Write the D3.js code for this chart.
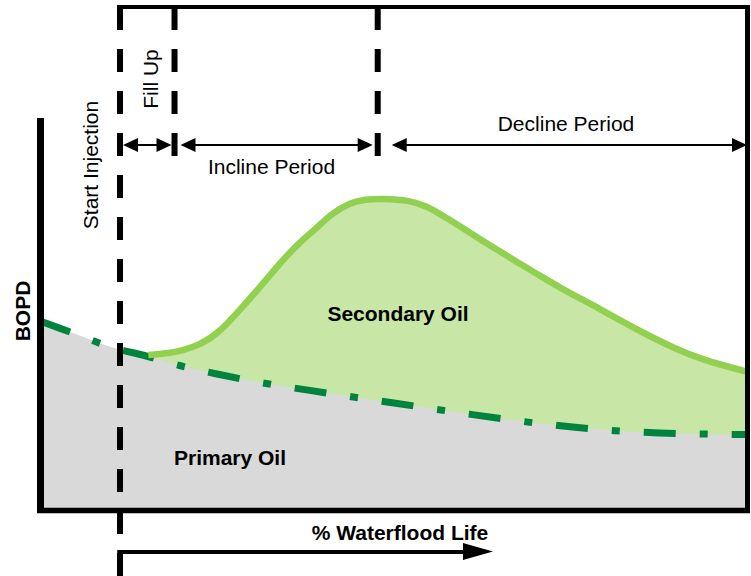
<!DOCTYPE html>
<html>
<head>
<meta charset="utf-8">
<script src="https://cdn.jsdelivr.net/npm/d3@7"></script>
<style>
  html, body { margin: 0; padding: 0; background: #ffffff; }
  svg { display: block; }
  text { font-family: "Liberation Sans", Arial, sans-serif; fill: #000; }
</style>
</head>
<body>
<svg id="chart" width="751" height="576"></svg>
<script>
// ---- data (x: % waterflood life, y: relative BOPD) ----
const primaryX = [0, 5, 10, 15, 20, 25, 30, 40, 50, 60, 70, 80, 90, 100];
const primaryY = [37.4, 34.8, 32.2, 30.4, 28.4, 26.8, 25.4, 23.1, 21.0, 18.9, 17.0, 15.6, 14.9, 14.7];

const secondaryX = [15.3, 18.4, 19.8, 22.6, 25.4, 28.2, 31.1, 33.9, 36.7, 39.1, 41.0, 43.8, 45.9, 48.4, 52.3, 54.7, 56.5, 59.3, 62.1, 65.0, 67.8, 70.6, 73.4, 76.3, 79.1, 82.6, 86.2, 89.7, 93.2, 96.8, 100];
const secondaryY = [30.6, 31.0, 31.4, 32.6, 35.2, 39.6, 44.2, 49.0, 53.2, 56.0, 58.7, 61.1, 61.7, 61.9, 61.5, 60.3, 58.8, 56.4, 53.8, 51.3, 48.8, 46.5, 44.1, 41.9, 39.8, 37.0, 34.3, 31.9, 29.9, 28.4, 27.2];

const eventNames = ["Start Injection", "Fill Up", "Incline End"];
const eventX = [11.3, 19.0, 47.7];
const periodLabels = ["Incline Period", "Decline Period"];
const areaLabels = ["Secondary Oil", "Primary Oil"];
const axisLabels = ["BOPD", "% Waterflood Life"];

// ---- layout ----
const svg = d3.select("#chart");
const x = d3.scaleLinear().domain([0, 100]).range([40, 748]);
const y = d3.scaleLinear().domain([0, 100]).range([508, 8]);

const primary = primaryX.map((v, i) => ({ x: v, y: primaryY[i] }));
const secondary = secondaryX.map((v, i) => ({ x: v, y: secondaryY[i] }));

const pCurve = d3.curveMonotoneX;
const sCurve = d3.curveBasis;

// secondary fill (area under secondary curve), covered below primary by gray
svg.append("path")
  .datum(secondary)
  .attr("fill", "#c8e6a6")
  .attr("d", d3.area().curve(sCurve).x(d => x(d.x)).y0(y(0)).y1(d => y(d.y)));

// primary fill
svg.append("path")
  .datum(primary)
  .attr("fill", "#d9d9d9")
  .attr("d", d3.area().curve(pCurve).x(d => x(d.x)).y0(y(0)).y1(d => y(d.y)));

// primary dash-dot line
svg.append("path")
  .datum(primary)
  .attr("fill", "none")
  .attr("stroke", "#00843d")
  .attr("stroke-width", 7)
  .attr("stroke-dasharray", "32 24 8 24")
  .attr("d", d3.line().curve(pCurve).x(d => x(d.x)).y(d => y(d.y)));

// secondary line
svg.append("path")
  .datum(secondary)
  .attr("fill", "none")
  .attr("stroke", "#92d050")
  .attr("stroke-width", 6.5)
  .attr("d", d3.line().curve(sCurve).x(d => x(d.x)).y(d => y(d.y)));

// frame / axes
const frame = svg.append("g").attr("stroke", "#000").attr("fill", "none");
frame.append("line").attr("x1", 40.5).attr("x2", 40.5).attr("y1", 118).attr("y2", 513).attr("stroke-width", 7);
frame.append("line").attr("x1", 37).attr("x2", 750).attr("y1", 510.5).attr("y2", 510.5).attr("stroke-width", 5.5);
frame.append("line").attr("x1", 747.5).attr("x2", 747.5).attr("y1", 5).attr("y2", 513).attr("stroke-width", 5);
frame.append("line").attr("x1", x(eventX[0]) - 3).attr("x2", 750).attr("y1", 7).attr("y2", 7).attr("stroke-width", 4);

// dashed event lines
eventX.forEach((v, i) => {
  svg.append("line")
    .attr("x1", x(v)).attr("x2", x(v))
    .attr("y1", 7).attr("y2", i === 0 ? 576 : 157)
    .attr("stroke", "#000")
    .attr("stroke-width", 6)
    .attr("stroke-dasharray", "23 19");
});

// double-headed arrows at period row
const arrowY = 145;
function dblArrow(x1, x2, yy) {
  const g = svg.append("g");
  const L = 15, h = 7;
  g.append("line").attr("x1", x1 + L - 1).attr("x2", x2 - L + 1).attr("y1", yy).attr("y2", yy)
    .attr("stroke", "#000").attr("stroke-width", 2);
  g.append("path").attr("fill", "#000")
    .attr("d", `M${x1},${yy}L${x1 + L},${yy - h}L${x1 + L},${yy + h}Z`);
  g.append("path").attr("fill", "#000")
    .attr("d", `M${x2},${yy}L${x2 - L},${yy - h}L${x2 - L},${yy + h}Z`);
}
dblArrow(x(eventX[0]) + 3, x(eventX[1]) - 3, arrowY);
dblArrow(x(eventX[1]) + 6, x(eventX[2]) - 5, arrowY);
dblArrow(x(eventX[2]) + 14, x(100) - 1, arrowY);

// labels
const normalSize = "21px", boldSize = "21px";
svg.append("text")
  .attr("transform", `translate(${x(eventX[0]) - 22},165) rotate(-90)`)
  .attr("text-anchor", "middle").style("font-size", normalSize)
  .text(eventNames[0]);
svg.append("text")
  .attr("transform", `translate(${x(eventX[1]) - 17},79) rotate(-90)`)
  .attr("text-anchor", "middle").style("font-size", normalSize)
  .text(eventNames[1]);
svg.append("text")
  .attr("x", 271.5).attr("y", 174)
  .attr("text-anchor", "middle").style("font-size", normalSize)
  .text(periodLabels[0]);
svg.append("text")
  .attr("x", 566).attr("y", 131)
  .attr("text-anchor", "middle").style("font-size", normalSize)
  .text(periodLabels[1]);

svg.append("text")
  .attr("x", 398).attr("y", 321)
  .attr("text-anchor", "middle").style("font-size", boldSize).style("font-weight", "bold")
  .text(areaLabels[0]);
svg.append("text")
  .attr("x", 230).attr("y", 465)
  .attr("text-anchor", "middle").style("font-size", boldSize).style("font-weight", "bold")
  .text(areaLabels[1]);
svg.append("text")
  .attr("transform", "translate(29.5,311) rotate(-90)")
  .attr("text-anchor", "middle").style("font-size", boldSize).style("font-weight", "bold")
  .text(axisLabels[0]);
svg.append("text")
  .attr("x", 400).attr("y", 540)
  .attr("text-anchor", "middle").style("font-size", boldSize).style("font-weight", "bold")
  .text(axisLabels[1]);

// bottom time arrow
const bx = x(eventX[0]);
svg.append("line").attr("x1", bx).attr("x2", bx).attr("y1", 550).attr("y2", 576)
  .attr("stroke", "#000").attr("stroke-width", 5);
svg.append("line").attr("x1", bx - 2.5).attr("x2", 465).attr("y1", 552).attr("y2", 552)
  .attr("stroke", "#000").attr("stroke-width", 4);
svg.append("path").attr("fill", "#000")
  .attr("d", "M493,551.5L463,543L463,560Z");
</script>
</body>
</html>
